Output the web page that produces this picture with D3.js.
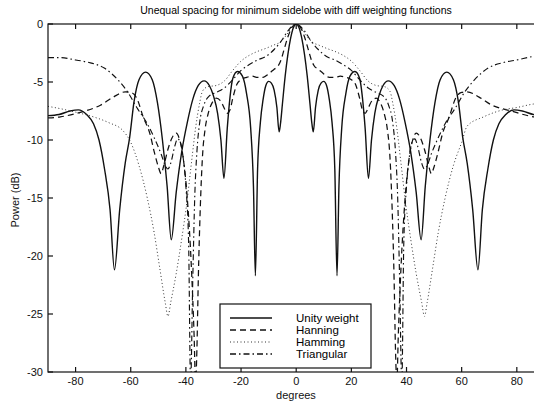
<!DOCTYPE html>
<html lang="en">
<head>
<meta charset="UTF-8" />
<title>Unequal spacing for minimum sidelobe</title>
<script src="https://cdn.jsdelivr.net/npm/d3@7"></script>
<style>
body{margin:0;background:#fff}
svg{display:block;font-family:"Liberation Sans",Arial,Helvetica,sans-serif}
</style>
</head>
<body>
<svg id="chart" width="534" height="402"></svg>
<script>
/* ===== values: [degrees, dB] ===== */
const unity=[[-90,-7.9],[-86,-7.8],[-82,-7.5],[-79,-7.4],[-76,-7.8],[-73.5,-8.6],[-71.5,-10],[-69.5,-12.5],[-67.5,-16],[-65.9,-21.2],
  [-64,-16],[-62,-12],[-60.4,-9.8],[-58.8,-6.7],[-57,-4.8],[-54.6,-4.15],[-52.2,-4.8],[-50.3,-6.8],[-48.5,-10],[-46.8,-14],[-45.3,-18.6],
  [-43.5,-14.5],[-41.5,-11],[-39.5,-8.5],[-37.5,-6.5],[-35.5,-5.3],[-33.4,-4.9],[-31.5,-5.3],[-30,-6.2],[-28.5,-7.7],[-27.3,-10],[-26.2,-13.3],
  [-25,-9],[-24,-6.3],[-23,-4.7],[-21.3,-4.1],[-19.5,-4.5],[-18,-6],[-16.5,-9],[-15.5,-14],[-14.8,-21.7],[-14,-12.5],[-13,-8.5],[-12,-6.5],
  [-11,-5.3],[-10,-4.95],[-9,-5.1],[-8,-5.7],[-7,-7.2],[-6.2,-9.3],[-5.7,-8.6],[-5,-6.9],[-4,-4.5],[-3,-2.6],[-2,-1.2],[-1,-0.3],[0,0],
  [1,-0.3],[2,-1.2],[3,-2.6],[4,-4.5],[5,-6.9],[5.7,-8.6],[6.2,-9.3],[7,-7.2],[8,-5.7],[9,-5.1],[10,-4.95],[11,-5.3],[12,-6.5],[13,-8.5],
  [14,-12.5],[14.8,-21.7],[15.5,-14],[16.5,-9],[18,-6],[19.5,-4.5],[21.3,-4.1],[23,-4.7],[24,-6.3],[25,-9],[26.2,-13.3],[27.3,-10],
  [28.5,-7.7],[30,-6.2],[31.5,-5.3],[33.4,-4.9],[35.5,-5.3],[37.5,-6.5],[39.5,-8.5],[41.5,-11],[43.5,-14.5],[45.3,-18.6],[46.8,-14],
  [48.5,-10],[50.3,-6.8],[52.2,-4.8],[54.6,-4.15],[57,-4.8],[58.8,-6.7],[60.4,-9.8],[62,-12],[64,-16],[65.9,-21.2],[67.5,-16],[69.5,-12.5],
  [71.5,-10],[73.5,-8.6],[76,-7.8],[79,-7.4],[82,-7.5],[86,-7.8],[90,-7.9]];

const hanning=[[-90,-8.1],[-85.5,-8.0],[-78,-7.6],[-71,-7.0],[-66.3,-6.3],[-62,-5.85],[-60,-5.9],[-57.8,-6.4],[-55.5,-8.0],[-53,-9.5],
  [-51.5,-11],[-50,-12.3],[-49,-12.9],[-48,-12.2],[-46.5,-10.8],[-45,-9.8],[-43.5,-9.4],[-42.5,-9.8],[-41,-11.5],[-39.5,-15],[-38,-21],
  [-37,-27],[-36.5,-31],[-36,-28],[-35.5,-22],[-34.8,-16],[-34,-11.5],[-33,-9],[-32,-7.8],[-30.5,-6.8],[-29,-6.4],[-27.5,-6.6],[-26,-7.3],
  [-25,-7.7],[-24,-7.4],[-23,-6.4],[-21.5,-5.2],[-20,-4.8],[-18,-4.6],[-16,-4.5],[-14,-4.6],[-12,-4.6],[-10,-4.3],[-8,-3.9],[-6.5,-3.6],
  [-5.5,-3.1],[-4.5,-2.3],[-3,-1.1],[-2,-0.5],[-1,-0.12],[0,0],
  [1,-0.12],[2,-0.5],[3,-1.1],[4.5,-2.3],[5.5,-3.1],[6.5,-3.6],[8,-3.9],[10,-4.3],[12,-4.6],[14,-4.6],[16,-4.5],[18,-4.6],[20,-4.8],
  [21.5,-5.2],[23,-6.4],[24,-7.4],[25,-7.7],[26,-7.3],[27.5,-6.6],[29,-6.4],[30.5,-6.8],[32,-7.8],[33,-9],[34,-11.5],[34.8,-16],
  [35.5,-22],[36,-28],[36.5,-31],[37,-27],[38,-21],[39.5,-15],[41,-11.5],[42.5,-9.8],[43.5,-9.4],[45,-9.8],[46.5,-10.8],[48,-12.2],
  [49,-12.9],[50,-12.3],[51.5,-11],[53,-9.5],[55.5,-8.0],[57.8,-6.4],[60,-5.9],[62,-5.85],[66.3,-6.3],[71,-7.0],[78,-7.5],[86,-8.0],[90,-8.1]];

const hamming=[[-90,-7.1],[-85.5,-7.3],[-80,-7.6],[-73.6,-8.0],[-68,-8.5],[-62.8,-9.2],[-60,-10.2],[-57,-12.2],[-54,-15],[-51.5,-18],
  [-49.5,-21],[-47.5,-24],[-46.5,-25.2],[-45.5,-24],[-43.5,-21.5],[-41.5,-18.5],[-39.7,-15.5],[-38,-12],[-36.5,-9],[-35,-6.8],[-34,-5.8],
  [-32,-5.4],[-29,-5.3],[-26,-4.9],[-23,-4.0],[-20,-3.2],[-17,-2.7],[-14.4,-2.4],[-11,-2.1],[-8,-1.8],[-6,-1.6],[-4,-1.1],[-2,-0.4],
  [-1,-0.1],[0,0],
  [1,-0.1],[2,-0.4],[4,-1.1],[6,-1.6],[8,-1.8],[11,-2.1],[14.4,-2.4],[17,-2.7],[20,-3.2],[23,-4.0],[26,-4.9],[29,-5.3],[32,-5.4],
  [34,-5.8],[35,-6.8],[36.5,-9],[38,-12],[39.7,-15.5],[41.5,-18.5],[43.5,-21.5],[45.5,-24],[46.5,-25.2],[47.5,-24],[49.5,-21],
  [51.5,-18],[54,-15],[57,-12.2],[60,-10.2],[62,-8.8],[68,-8.0],[75,-7.4],[80,-7.2],[86,-6.9],[90,-6.8]];

const triangular=[[-90,-2.9],[-85.5,-2.9],[-80,-3.1],[-75.5,-3.3],[-69.6,-3.8],[-64.7,-4.8],[-61,-5.9],[-57.8,-7.2],[-54,-8.6],
  [-51.5,-9.8],[-49,-11.2],[-47.5,-12.2],[-46.5,-12.5],[-45.5,-12.0],[-44,-10.5],[-43,-9.9],[-42,-10.2],[-41,-11.5],[-40,-14],[-39,-19],
  [-38.3,-31],[-37.5,-22],[-36.8,-15],[-36,-11],[-35,-8.5],[-33.5,-7],[-31.5,-6.2],[-29,-5.9],[-26,-5.5],[-23,-4.8],[-20,-4.0],
  [-17,-3.5],[-14,-3.1],[-11,-2.8],[-8,-2.2],[-5.5,-1.5],[-3,-0.6],[-1,-0.1],[0,0],
  [1,-0.1],[3,-0.6],[5.5,-1.5],[8,-2.2],[11,-2.8],[14,-3.1],[17,-3.5],[20,-4.0],[23,-4.8],[26,-5.5],[29,-5.9],[31.5,-6.2],[33.5,-7],
  [35,-8.5],[36,-11],[36.8,-15],[37.5,-22],[38.3,-31],[39,-19],[40,-14],[41,-11.5],[42,-10.2],[43,-9.9],[44,-10.5],[45.5,-12.0],
  [46.5,-12.5],[47.5,-12.2],[49,-11.2],[51.5,-9.8],[54,-8.6],[57.8,-7.2],[61,-5.9],[64.7,-4.8],[69.6,-3.8],[75.5,-3.3],[80,-3.1],
  [86,-2.8],[90,-2.7]];

const xTicks=[-80,-60,-40,-20,0,20,40,60,80];
const yTicks=[0,-5,-10,-15,-20,-25,-30];
const seriesNames=['Unity weight','Hanning','Hamming','Triangular'];

/* ===== drawing ===== */
const svg=d3.select('#chart');
const L=48,R=544.4,T=24,B=372;
const x=d3.scaleLinear().domain([-90,90]).range([L,R]);
const y=d3.scaleLinear().domain([-30,0]).range([B,T]);

svg.append('text').attr('x',296).attr('y',14).attr('text-anchor','middle')
  .attr('font-size',10.5).text('Unequal spacing for minimum sidelobe with diff weighting functions');

svg.append('clipPath').attr('id','clip').append('rect')
  .attr('x',L).attr('y',T).attr('width',R-L).attr('height',B-T);

const styles=[
  {data:unity,dash:null,w:1.4,c:'#111'},
  {data:hanning,dash:'6,4',w:1.25,c:'#111'},
  {data:hamming,dash:'1,2.5',w:1,c:'#333'},
  {data:triangular,dash:'6,3,1.5,3',w:1.15,c:'#111'}
];
const line=d3.line().x(d=>x(d[0])).y(d=>y(d[1])).curve(d3.curveMonotoneX);
const g=svg.append('g').attr('clip-path','url(#clip)');
styles.forEach(s=>{
  g.append('path').datum(s.data).attr('fill','none').attr('stroke',s.c)
    .attr('stroke-width',s.w).attr('stroke-dasharray',s.dash).attr('d',line);
});

/* axes: MATLAB style, ticks pointing inward, box on */
const ax=svg.append('g').attr('stroke','#111').attr('stroke-width',1.2);
ax.append('rect').attr('x',L).attr('y',T).attr('width',R-L).attr('height',B-T).attr('fill','none');
xTicks.forEach(t=>{
  ax.append('line').attr('x1',x(t)).attr('x2',x(t)).attr('y1',B).attr('y2',B-5);
  ax.append('line').attr('x1',x(t)).attr('x2',x(t)).attr('y1',T).attr('y2',T+5);
});
yTicks.forEach(t=>{
  ax.append('line').attr('x1',L).attr('x2',L+5).attr('y1',y(t)).attr('y2',y(t));
});
const lab=svg.append('g').attr('font-size',11).attr('fill','#111');
xTicks.forEach(t=>{
  lab.append('text').attr('x',x(t)).attr('y',B+13).attr('text-anchor','middle').text(t<0?'-'+(-t):t);
});
yTicks.forEach(t=>{
  lab.append('text').attr('x',L-5).attr('y',y(t)+4).attr('text-anchor','end').text(t<0?'-'+(-t):t);
});
lab.append('text').attr('x',296).attr('y',399).attr('text-anchor','middle').text('degrees');
lab.append('text').attr('transform','translate(19,200) rotate(-90)').attr('text-anchor','middle').text('Power (dB)');

/* legend */
const lg=svg.append('g').attr('transform','translate(220,304)');
lg.append('rect').attr('width',151).attr('height',64).attr('fill','#fff').attr('stroke','#111').attr('stroke-width',1.2);
seriesNames.forEach((n,i)=>{
  const yy=14+i*12;
  lg.append('line').attr('x1',10).attr('x2',52).attr('y1',yy).attr('y2',yy)
    .attr('stroke',styles[i].c).attr('stroke-width',styles[i].w+0.2).attr('stroke-dasharray',styles[i].dash);
  lg.append('text').attr('x',76).attr('y',yy+4).attr('font-size',11.5).text(n);
});
</script>
</body>
</html>
